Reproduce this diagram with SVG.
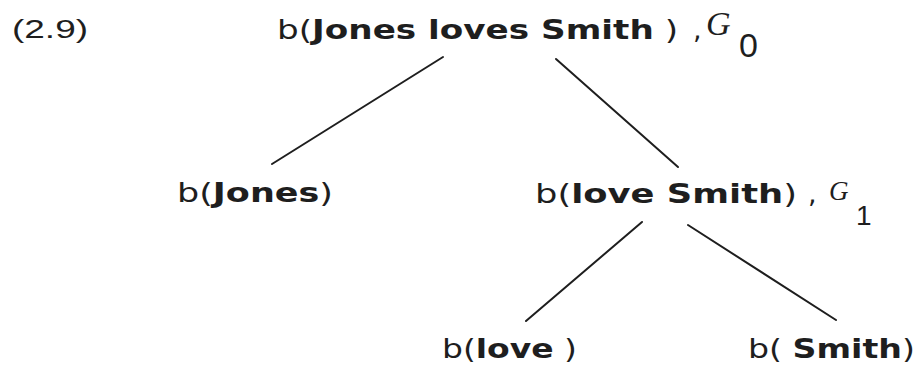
<svg xmlns="http://www.w3.org/2000/svg" width="919" height="367" viewBox="0 0 919 367">
<style>
text{font-family:"DejaVu Sans","Liberation Sans",sans-serif;font-size:27px;fill:#1e1e1e}
.b{font-weight:bold}
.num{font-family:"Liberation Sans",Arial,sans-serif;font-size:26px}
.sig{font-family:"Liberation Serif","Times New Roman",serif;font-style:italic}
.sub{font-family:"Liberation Sans",Arial,sans-serif}
.s0{font-size:34px}
.s1{font-size:27px}
.d0{font-size:34px}
.d1{font-size:28px}
.edge{stroke:#1e1e1e;stroke-width:2;fill:none;stroke-linecap:round}
</style>
<rect width="919" height="367" fill="#fff"/>
<text class="num" x="12" y="38" textLength="76" lengthAdjust="spacingAndGlyphs">(2.9)</text>
<g id="edges">
<line class="edge" x1="443" y1="57" x2="272" y2="164"/>
<line class="edge" x1="556" y1="59" x2="678" y2="167"/>
<line class="edge" x1="642" y1="222" x2="526" y2="321"/>
<line class="edge" x1="688" y1="225" x2="836" y2="320"/>
</g>
<g id="root">
<text x="277" y="39" textLength="401" lengthAdjust="spacingAndGlyphs">b(<tspan class="b">Jones loves Smith</tspan> )</text>
<text x="693" y="39">,</text>
<text class="sig s0" x="706" y="35">G</text>
<text class="sub d0" x="739" y="57">0</text>
</g>
<g id="jones">
<text x="177" y="202" textLength="156" lengthAdjust="spacingAndGlyphs">b(<tspan class="b">Jones</tspan>)</text>
</g>
<g id="loveSmith">
<text x="535" y="203" textLength="262" lengthAdjust="spacingAndGlyphs">b(<tspan class="b">love Smith</tspan>)</text>
<text x="808" y="203">,</text>
<text class="sig s1" x="829" y="200">G</text>
<text class="sub d1" x="856" y="225">1</text>
</g>
<g id="love">
<text x="442" y="358" textLength="135" lengthAdjust="spacingAndGlyphs">b(<tspan class="b">love</tspan> )</text>
</g>
<g id="smith">
<text x="748" y="358" textLength="167" lengthAdjust="spacingAndGlyphs">b( <tspan class="b">Smith</tspan>)</text>
</g>
</svg>
